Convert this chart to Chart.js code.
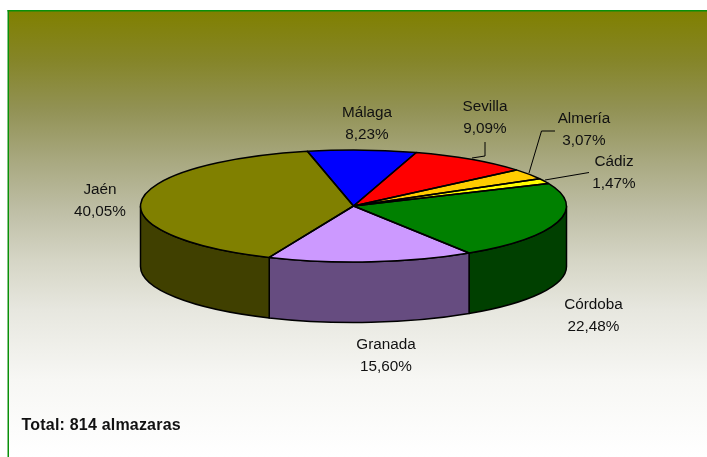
<!DOCTYPE html>
<html><head><meta charset="utf-8">
<style>html,body{margin:0;padding:0;background:#fff}canvas{display:block}</style>
<script src="https://cdn.jsdelivr.net/npm/chart.js@4"></script>
</head><body>
<canvas id="c" width="707" height="457"></canvas>
<script>
const categories = ['Málaga','Sevilla','Almería','Cádiz','Córdoba','Granada','Jaén'];
const percentages = [8.23,9.09,3.07,1.47,22.48,15.60,40.05];
const topColors = ['#0000ff','#ff0000','#ffcc00','#ffff00','#008000','#cc99ff','#808000'];
const sideColors = ['#000080','#800000','#806600','#808000','#004000','#664c80','#404000'];
const totalNote = 'Total: 814 almazaras';

const FONT = '"Liberation Sans", Arial, sans-serif';
const labelCenters = [[367,113],[485,106.5],[584,119],[614,162],[593.5,305],[386,345],[100,190]];
const leaders = [
  [[485,142],[485,156],[472,158]],
  [[555,131],[541.5,131],[529,173]],
  [[589,172.5],[545,180]]
];
const pie3d = {cx:353.5, cy:206, ry:56, depth:60.5};
const backgroundStops = [[11,'#808000'],[60,'#858528'],[110,'#929255'],[160,'#a8a87f'],[210,'#bebea5'],[260,'#d5d5c5'],[310,'#e7e7df'],[380,'#f7f7f4'],[457,'#ffffff']];

const pie3dPlugin = {
  id:'pie3d',
  beforeDraw(chart){
    const {ctx,width,height} = chart;
    const g = ctx.createLinearGradient(0,11,0,height);
    backgroundStops.forEach(([y,c])=>g.addColorStop((y-11)/(height-11),c));
    ctx.save();
    ctx.fillStyle = g; ctx.fillRect(8,11,width-8,height-11);
    ctx.fillStyle = '#0a8f0a';
    ctx.fillRect(7.5,10,width-7.5,1.5);
    ctx.fillRect(7.5,10,1.5,height-10);
    ctx.restore();
  },
  beforeDatasetDraw(chart){
    const {ctx} = chart;
    const arcs = chart.getDatasetMeta(0).data;
    const {cx,cy,ry,depth} = pie3d;
    ctx.save();
    ctx.lineWidth = 1.5; ctx.strokeStyle = '#000'; ctx.lineJoin='round';
    arcs.forEach((a,i)=>{
      const rx = a.outerRadius;
      // keep only the part of the slice on the near half of the rim
      for (const shift of [0, Math.PI*2, -Math.PI*2]) {
        const s = Math.max(a.startAngle+shift,0), e = Math.min(a.endAngle+shift,Math.PI);
        if (e <= s) continue;
        ctx.beginPath();
        ctx.ellipse(cx,cy,rx,ry,0,s,e);
        ctx.ellipse(cx,cy+depth,rx,ry,0,e,s,true);
        ctx.closePath();
        ctx.fillStyle = sideColors[i];
        ctx.fill(); ctx.stroke();
      }
    });
    ctx.restore();
    // the library's own slices are drawn flattened onto the top face
    const a0 = arcs[0];
    ctx.save();
    ctx.translate(cx,cy);
    ctx.scale(1,ry/a0.outerRadius);
    ctx.translate(-a0.x,-a0.y);
  },
  afterDatasetDraw(chart){
    const {ctx} = chart;
    ctx.restore();
    const arcs = chart.getDatasetMeta(0).data;
    const {cx,cy,ry} = pie3d;
    ctx.save();
    ctx.lineWidth = 1.5; ctx.strokeStyle = '#000'; ctx.lineJoin='round';
    arcs.forEach(a=>{
      ctx.beginPath();
      ctx.moveTo(cx,cy);
      ctx.ellipse(cx,cy,a.outerRadius,ry,0,a.startAngle,a.endAngle);
      ctx.closePath();
      ctx.stroke();
    });
    ctx.restore();
  },
  afterDraw(chart){
    const {ctx} = chart;
    ctx.save();
    ctx.strokeStyle = '#000'; ctx.lineWidth = 1;
    leaders.forEach(l=>{
      ctx.beginPath();
      l.forEach((p,i)=> i?ctx.lineTo(p[0],p[1]):ctx.moveTo(p[0],p[1]));
      ctx.stroke();
    });
    ctx.fillStyle = '#111'; ctx.textAlign='center'; ctx.textBaseline='middle';
    ctx.font = '15.3px '+FONT;
    categories.forEach((name,i)=>{
      const [x,y] = labelCenters[i];
      ctx.fillText(name,x,y);
      ctx.fillText(percentages[i].toFixed(2).replace('.',',')+'%',x,y+22);
    });
    ctx.textAlign='left';
    ctx.font = 'bold 16px '+FONT;
    ctx.letterSpacing = '0.2px';
    ctx.fillText(totalNote,21.5,426);
    ctx.restore();
  }
};

new Chart(document.getElementById('c'),{
  type:'pie',
  data:{labels:categories,datasets:[{data:percentages,backgroundColor:topColors,borderWidth:0,hoverOffset:0}]},
  options:{
    responsive:false,animation:false,devicePixelRatio:1,
    rotation:-12.5,radius:213,
    layout:{padding:{top:14,bottom:14}},
    plugins:{legend:{display:false},tooltip:{enabled:false},title:{display:false}}
  },
  plugins:[pie3dPlugin]
});
</script>
</body></html>
